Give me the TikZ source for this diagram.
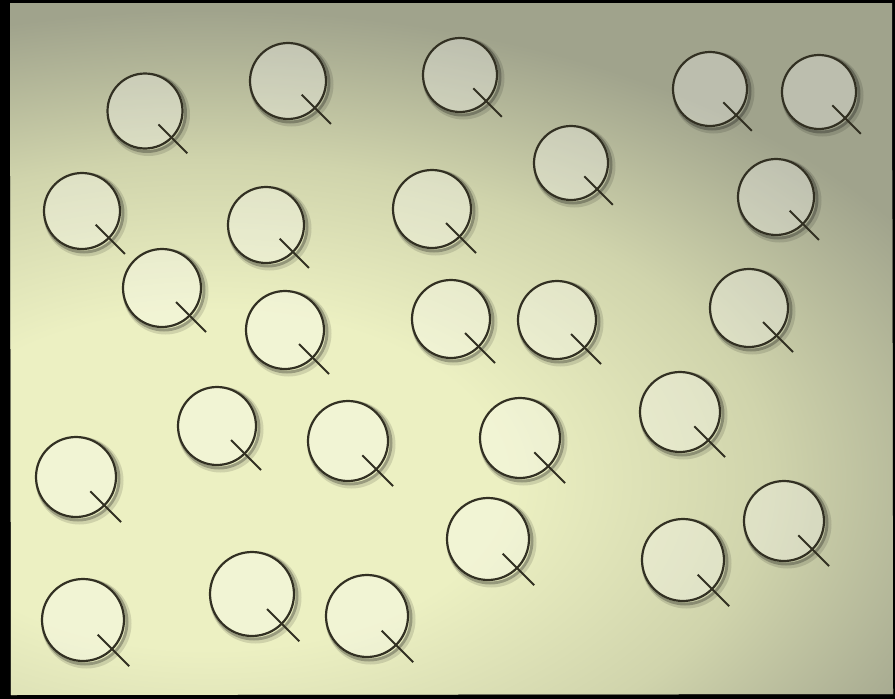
\documentclass[tikz,border=0pt]{standalone}
\usetikzlibrary{calc}
\definecolor{paperhi}{RGB}{236,240,194}
\definecolor{papermid}{RGB}{208,212,172}
\definecolor{paperlo}{RGB}{160,163,140}
\definecolor{ink}{RGB}{50,48,34}
\pgfdeclareradialshading{paperglow}{\pgfpoint{0bp}{0bp}}{color(0bp)=(paperhi); color(9bp)=(paperhi); color(17bp)=(papermid); color(25bp)=(paperlo); color(50bp)=(paperlo)}
\tikzset{
  ring/.style={circle, draw=ink, line width=2.2pt, inner sep=0pt},
  glow/.style={fill=white, opacity=0.3},
  tickline/.style={draw=ink, line width=2pt},
  shadeA/.style={draw=black, line width=3pt, opacity=0.26},
  shadeB/.style={draw=black, line width=6pt, opacity=0.12}
}
\begin{document}
\begin{tikzpicture}[x=1pt,y=-1pt]
\fill[black] (0,0) rectangle (895,699);
\useasboundingbox (0,0) rectangle (895,699);
\begin{scope}
  \clip (10,3) -- (892,3) -- (893,694) -- (11,695) -- cycle;
  \fill[paperlo] (0,0) rectangle (895,699);
  \shade[shading=paperglow] (210,480) ellipse (820 and 470);
\end{scope}
\foreach \n/\x/\y/\r in {
  1/145/111/38.5, 2/288/81/39, 3/460/75/38, 4/710/89/38, 5/819/92/38,
  6/571/163/38, 7/82/211/39, 8/266/225/39, 9/432/209/40, 10/776/197/39,
  11/162/288/40, 12/285/330/40, 13/451/319/40, 14/557/320/40, 15/749/308/40,
  16/217/426/40, 17/348/441/41, 18/520/438/41, 19/680/412/41, 20/76/477/41,
  21/488/539/42, 22/683/560/42, 23/784/521/41, 24/252/594/43, 25/367/616/42,
  26/83/620/42}{
  \pgfmathsetmacro\ta{0.35*\r}
  \pgfmathsetmacro\tb{1.1*\r}
  \coordinate (k\n) at (\x,\y);
  \begin{scope}[even odd rule]
    \clip (k\n) circle (\r) (-10,-10) rectangle (905,709);
    \draw[shadeB] ($(k\n)+(3.5,3.5)$) circle (\r);
    \draw[shadeA] ($(k\n)+(2,2)$) circle (\r);
  \end{scope}
  \fill[glow] (k\n) circle (\r);
  \node[ring, minimum size={2*\r-2}] (c\n) at (k\n) {};
  \draw[tickline] ($(c\n.center)+(\ta,\ta)$) -- ($(c\n.center)+(\tb,\tb)$);
}
\end{tikzpicture}
\end{document}
